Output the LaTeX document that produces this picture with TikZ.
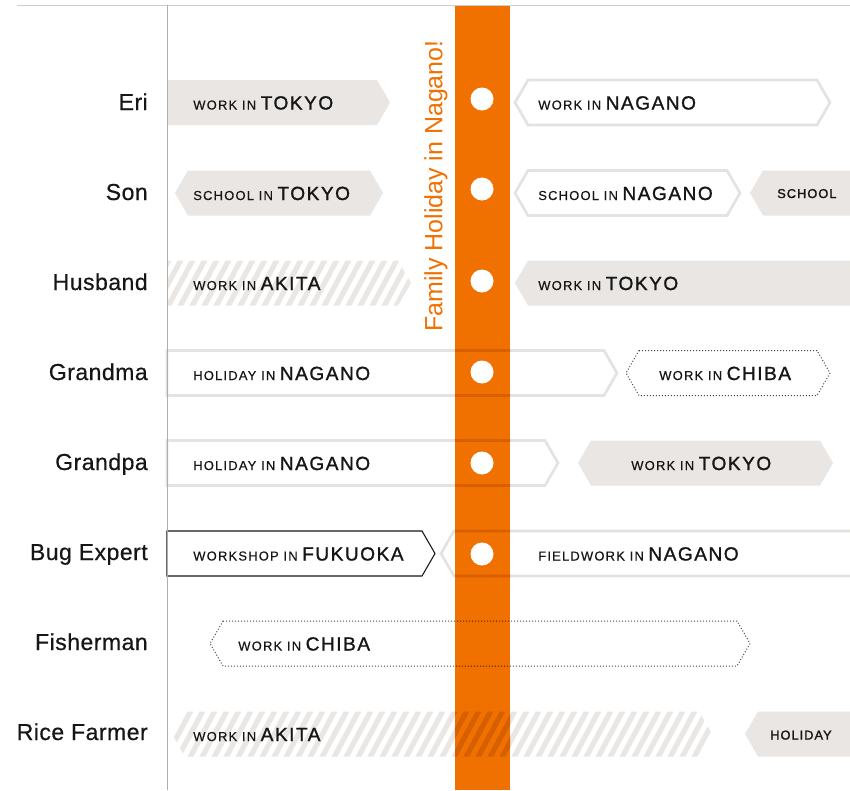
\documentclass[tikz,border=0pt]{standalone}
\usepackage{fontspec}
\setmainfont{Liberation Sans}
\newfontfamily\smfont[LetterSpace=9, FakeBold=0.4]{Liberation Sans}
\newfontfamily\bgfont[LetterSpace=8, FakeBold=1.2]{Liberation Sans}
\newfontfamily\solofont[LetterSpace=8, FakeBold=1.6]{Liberation Sans}
\newfontfamily\lblfont[LetterSpace=2, FakeBold=0.5]{Liberation Sans}
\definecolor{org}{RGB}{240,112,0}
\definecolor{darkorg}{RGB}{214,96,0}
\definecolor{pale}{RGB}{233,230,227}
\definecolor{edge}{RGB}{229,226,223}
\definecolor{ink}{RGB}{22,22,22}
\definecolor{rulegray}{RGB}{205,205,205}
\definecolor{dotline}{RGB}{70,70,70}
\newcommand\smtxt[1]{{\smfont\fontsize{9.75pt}{10pt}\selectfont #1}}
\newcommand\bgtxt[1]{{\bgfont\fontsize{14.3pt}{15pt}\selectfont #1}}
\newcommand\tagtxt[2]{\smtxt{#1}\hspace{3.4pt}\bgtxt{#2}}
% shape path: x1, x2, yc, left point depth, right point depth
\newcommand\shp[5]{(#1+#4,#3-22.5) -- (#2-#5,#3-22.5) -- (#2,#3) -- (#2-#5,#3+22.5) -- (#1+#4,#3+22.5) -- (#1,#3) -- cycle}
\tikzset{
  fillbox/.style={fill=pale},
  edgebox/.style={draw=edge, line width=2pt, line join=miter},
  darkbox/.style={draw=ink, line width=0.8pt},
  dotbox/.style={draw=dotline, line width=0.75pt, dash pattern=on 0.75pt off 1.5pt},
  stripe/.style={draw=pale, line width=3.9pt},
  lbl/.style={font=\lblfont\fontsize{17.3pt}{19pt}\selectfont, text=ink, inner sep=0pt, anchor=base east},
  tag/.style={text=ink, inner sep=0pt, anchor=base west},
  solo/.style={text=ink, inner sep=0pt, anchor=base west, font=\solofont\fontsize{9.6pt}{10pt}\selectfont},
  dot/.style={circle, fill=white, inner sep=0pt, minimum size=17.25pt}
}
\begin{document}
\begin{tikzpicture}[x=0.75pt,y=-0.75pt]
\useasboundingbox (0,0) rectangle (850,790);
\fill[white] (0,0) rectangle (850,790);
\draw[rulegray, line width=0.75pt] (17,5) -- (850,5);
\fill[org] (455,6) rectangle (510,790);
\node[rotate=90, text=org, inner sep=0pt, font=\fontsize{18.7pt}{20pt}\selectfont] (title) at (436,186) {Family Holiday in Nagano!};

% Row 1 Eri
\path[fillbox] \shp{167}{390}{102.5}{0}{13};
\path[edgebox] \shp{515}{830}{102.5}{13}{13};
% Row 2 Son
\path[fillbox] \shp{175}{383}{193}{13}{13};
\path[edgebox] \shp{515}{740}{193}{13}{13};
\path[fillbox] \shp{750}{870}{193}{13}{0};
% Row 3 Husband
\begin{scope}
\clip \shp{167}{411}{283}{0}{13};
\foreach \s in {130,142,...,420} \draw[stripe] (\s,310) -- (\s+29.5,255);
\end{scope}
\path[fillbox] \shp{515}{870}{283}{13}{0};
% Row 4 Grandma
\path[edgebox] \shp{167}{617}{373}{0}{13};
\path[dotbox] \shp{626}{830}{373}{13}{13};
% Row 5 Grandpa
\path[edgebox] \shp{167}{558}{463}{0}{13};
\path[fillbox] \shp{578}{833}{463}{13}{13};
% Row 6 Bug Expert
\path[darkbox] \shp{167}{435}{553.5}{0}{13};
\path[edgebox] \shp{441}{870}{553.5}{13}{0};
% Row 7 Fisherman
\path[dotbox] \shp{210}{750}{643.5}{13}{13};
% Row 8 Rice Farmer
\begin{scope}
\clip \shp{172}{712}{734}{13}{13};
\foreach \s in {140,152,...,720} \draw[stripe] (\s,761) -- (\s+29.5,706);
\end{scope}
\path[fillbox] \shp{745}{870}{734}{13}{0};

% orange bar drawn over, with the shapes showing through as darker orange
\fill[org] (455,6) rectangle (510,790);
\begin{scope}
\clip (455,6) rectangle (510,790);
\path[edgebox, draw=darkorg] \shp{167}{617}{373}{0}{13};
\path[edgebox, draw=darkorg] \shp{167}{558}{463}{0}{13};
\path[edgebox, draw=darkorg] \shp{441}{870}{553.5}{13}{0};
\path[dotbox, draw=black!75!org] \shp{210}{750}{643.5}{13}{13};
\begin{scope}
\clip \shp{172}{712}{734}{13}{13};
\foreach \s in {140,152,...,720} \draw[stripe, draw=darkorg] (\s,761) -- (\s+29.5,706);
\end{scope}
\end{scope}

\draw[rulegray!85!black, line width=0.75pt] (167,5) -- (167,790);

% dots
\node[dot] (d1) at (482,99) {};
\node[dot] (d2) at (482,189) {};
\node[dot] (d3) at (482,281) {};
\node[dot] (d4) at (482,372) {};
\node[dot] (d5) at (482,463) {};
\node[dot] (d6) at (482,554) {};

% row labels
\node[lbl] (l1) at (148,110) {Eri};
\node[lbl] (l2) at (148,200) {Son};
\node[lbl] (l3) at (148,290) {Husband};
\node[lbl] (l4) at (148,380) {Grandma};
\node[lbl] (l5) at (148,470) {Grandpa};
\node[lbl] (l6) at (148,560) {Bug Expert};
\node[lbl] (l7) at (148,650) {Fisherman};
\node[lbl] (l8) at (148,740) {Rice Farmer};

% box texts
\node[tag] (t11) at (193,109.5) {\tagtxt{WORK IN}{TOKYO}};
\node[tag] (t12) at (538,109.5) {\tagtxt{WORK IN}{NAGANO}};
\node[tag] (t21) at (193,200) {\tagtxt{SCHOOL IN}{TOKYO}};
\node[tag] (t22) at (538,200) {\tagtxt{SCHOOL IN}{NAGANO}};
\node[solo] (t23) at (777,198) {SCHOOL};
\node[tag] (t31) at (193,290) {\tagtxt{WORK IN}{AKITA}};
\node[tag] (t32) at (538,290) {\tagtxt{WORK IN}{TOKYO}};
\node[tag] (t41) at (193,380) {\tagtxt{HOLIDAY IN}{NAGANO}};
\node[tag] (t42) at (659,380) {\tagtxt{WORK IN}{CHIBA}};
\node[tag] (t51) at (193,470) {\tagtxt{HOLIDAY IN}{NAGANO}};
\node[tag] (t52) at (631,470) {\tagtxt{WORK IN}{TOKYO}};
\node[tag] (t61) at (193,560.5) {\tagtxt{WORKSHOP IN}{FUKUOKA}};
\node[tag] (t62) at (538,560.5) {\tagtxt{FIELDWORK IN}{NAGANO}};
\node[tag] (t71) at (238,650.5) {\tagtxt{WORK IN}{CHIBA}};
\node[tag] (t81) at (193,741) {\tagtxt{WORK IN}{AKITA}};
\node[solo] (t82) at (770,739.5) {HOLIDAY};
\end{tikzpicture}
\end{document}
